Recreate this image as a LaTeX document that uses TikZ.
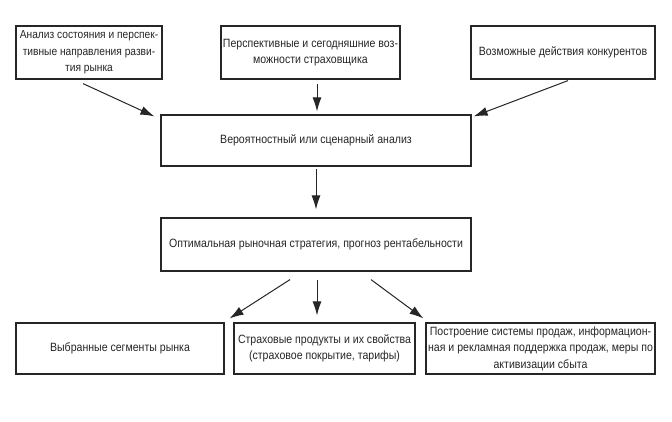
\documentclass[tikz,border=0pt]{standalone}
\usepackage{fontspec}
\setmainfont{Liberation Sans}[FakeStretch=0.88]
\usetikzlibrary{arrows.meta}
\begin{document}
\begin{tikzpicture}[x=1pt,y=-1pt,
  box/.style={draw=black!85,line width=1.2pt,inner sep=1pt,align=center,font=\fontsize{12}{16.5}\selectfont,text=black!85},
  arr/.style={draw=black!85,line width=1pt,-{Latex[length=14pt,width=9pt]}}]
\useasboundingbox[fill=white] (0,0) rectangle (672,422);
\node[box,minimum width=146pt,minimum height=53pt,font=\fontsize{11.6}{16.5}\selectfont] (b1) at (89,52.5) {Анализ состояния и перспек-\\тивные направления разви-\\тия рынка};
\node[box,minimum width=179pt,minimum height=53pt] (b2) at (310.5,52.5) {Перспективные и сегодняшние воз-\\можности страховщика};
\node[box,minimum width=184pt,minimum height=53pt] (b3) at (563,52.5) {Возможные действия конкурентов};
\node[box,minimum width=310pt,minimum height=51pt] (c) at (316,140.5) {Вероятностный или сценарный анализ};
\node[box,minimum width=310pt,minimum height=53pt] (o) at (316,244.5) {Оптимальная рыночная стратегия, прогноз рентабельности};
\node[box,minimum width=208pt,minimum height=51pt] (s1) at (120,348.5) {Выбранные сегменты рынка};
\node[box,minimum width=181pt,minimum height=51pt] (s2) at (324.5,348.5) {Страховые продукты и их свойства\\(страховое покрытие, тарифы)};
\node[box,minimum width=229pt,minimum height=51pt] (s3) at (540.5,348.5) {Построение системы продаж, информацион-\\ная и рекламная поддержка продаж, меры по\\активизации сбыта};
\draw[arr] ([xshift=-6pt,yshift=-4pt]b1.south) -- ([xshift=-6pt,yshift=-2pt]c.north west);
\draw[arr] ([xshift=6.5pt,yshift=-4pt]b2.south) -- ([xshift=1pt,yshift=3pt]c.north);
\draw[arr] ([xshift=5pt,yshift=-1pt]b3.south) -- ([xshift=2pt,yshift=-2pt]c.north east);
\draw[arr] ([xshift=0pt,yshift=-2pt]c.south) -- ([xshift=0pt,yshift=8pt]o.north);
\draw[arr] ([xshift=-26pt,yshift=-8pt]o.south) -- ([xshift=5pt,yshift=4pt]s1.north east);
\draw[arr] ([xshift=1pt,yshift=-8pt]o.south) -- ([xshift=-7.5pt,yshift=7pt]s2.north);
\draw[arr] ([xshift=55pt,yshift=-8pt]o.south) -- ([xshift=-2pt,yshift=4pt]s3.north west);
\end{tikzpicture}
\end{document}
